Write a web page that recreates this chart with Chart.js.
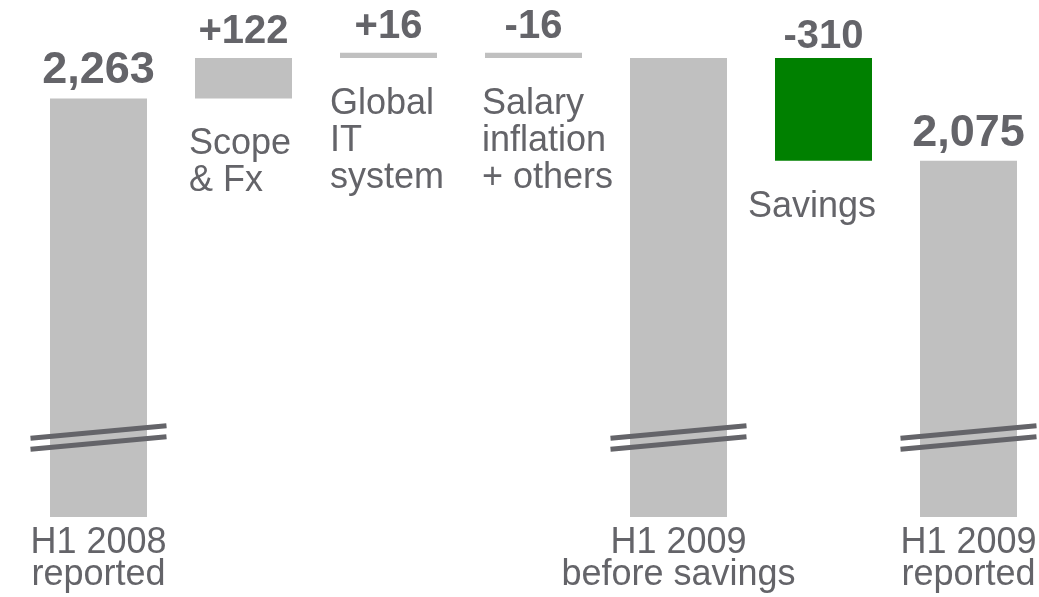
<!DOCTYPE html>
<html>
<head>
<meta charset="utf-8">
<script src="https://cdn.jsdelivr.net/npm/chart.js@4/dist/chart.umd.min.js"></script>
<style>
  html, body { margin: 0; padding: 0; background: #fff; overflow: hidden; }
  #wrap { width: 1041px; height: 597px; position: relative; }
</style>
</head>
<body>
<div id="wrap"><canvas id="myChart"></canvas></div>
<script>
// categories, as they are written on the slide
var categories = [
    ['H1 2008', 'reported'],
    ['Scope', '& Fx'],
    ['Global', 'IT', 'system'],
    ['Salary', 'inflation', '+ others'],
    ['H1 2009', 'before savings'],
    ['Savings'],
    ['H1 2009', 'reported']
];
// true = total bar standing on the axis, false = step
var isTotal = [true, false, false, false, true, false, true];
var steps = [2263, 122, 16, -16, 0, -310, 0];
var valueLabels = ['2,263', '+122', '+16', '-16', '', '-310', '2,075'];

var textColor = '#646469';
var font = '"Liberation Sans", Arial, sans-serif';

// running total -> floating bars
var barData = [];
var colors = [];
var running = 0;
for (var i = 0; i < steps.length; i++) {
    if (isTotal[i]) {
        running += steps[i];
        barData.push(running);
        colors.push('#c0c0c0');
    } else {
        var from = running;
        running += steps[i];
        // the -16 goes back down over the same span as the +16
        barData.push([Math.min(from, running), Math.max(from, running)]);
        colors.push(steps[i] < -100 ? '#008000' : '#c0c0c0');
    }
}

var labelPlugin = {
    id: 'waterfallLabels',
    afterDatasetsDraw: function (chart, args, opts) {
        var ctx = chart.ctx;
        var meta = chart.getDatasetMeta(0);
        var y = chart.scales.y;
        ctx.save();

        // axis break marks on the total bars
        var by = y.getPixelForValue(opts.breakValue);
        ctx.strokeStyle = textColor;
        ctx.lineWidth = 5;
        meta.data.forEach(function (bar, i) {
            if (!isTotal[i]) return;
            [-5.5, 5.5].forEach(function (d) {
                ctx.beginPath();
                ctx.moveTo(bar.x - 68, by + d + 6.3);
                ctx.lineTo(bar.x + 68, by + d - 6.3);
                ctx.stroke();
            });
        });

        meta.data.forEach(function (bar, i) {
            var top = Math.min(bar.y, bar.base);
            var bottom = Math.max(bar.y, bar.base);
            // value on top
            if (valueLabels[i]) {
                ctx.font = 'bold ' + (isTotal[i] ? 45 : 40) + 'px ' + font;
                ctx.fillStyle = textColor;
                ctx.textAlign = 'center';
                ctx.textBaseline = 'alphabetic';
                ctx.fillText(valueLabels[i], bar.x, top - (steps[i] < -100 ? 10 : 15));
            }
            // step names under the floating bars
            if (!isTotal[i]) {
                ctx.font = '36px ' + font;
                ctx.textAlign = 'left';
                var left = bar.x - bar.width / 2 + opts.noteShift[i];
                categories[i].forEach(function (line, k) {
                    ctx.fillText(line, left, bottom + 56 + k * 37);
                });
            }
        });
        ctx.restore();
    }
};

var ctx = document.getElementById('myChart').getContext('2d');
var chart = new Chart(ctx, {
    type: 'bar',
    data: {
        labels: categories,
        datasets: [{
            data: barData,
            backgroundColor: colors,
            borderWidth: 0,
            barPercentage: 0.669,
            categoryPercentage: 1
        }]
    },
    options: {
        responsive: true,
        maintainAspectRatio: false,
        animation: false,
        layout: { padding: { left: 26, right: 0, top: 0, bottom: 0 } },
        plugins: {
            legend: { display: false },
            tooltip: { enabled: false },
            waterfallLabels: {
                breakValue: 1240,
                noteShift: [0, -6, -10, -3, 0, -27, 0]
            }
        },
        scales: {
            x: {
                grid: { display: false, drawTicks: false },
                border: { display: false },
                ticks: {
                    color: textColor,
                    padding: 10,
                    maxRotation: 0,
                    autoSkip: false,
                    font: { family: font, size: 36, lineHeight: '32px' },
                    callback: function (v, i) {
                        return isTotal[i] ? categories[i] : '';
                    }
                },
                afterFit: function (scale) {
                    scale.height = 80;
                    scale.paddingLeft = 0;
                    scale.paddingRight = 0;
                }
            },
            y: {
                display: false,
                min: 1000,
                max: 2560
            }
        }
    },
    plugins: [labelPlugin]
});
</script>
</body>
</html>
